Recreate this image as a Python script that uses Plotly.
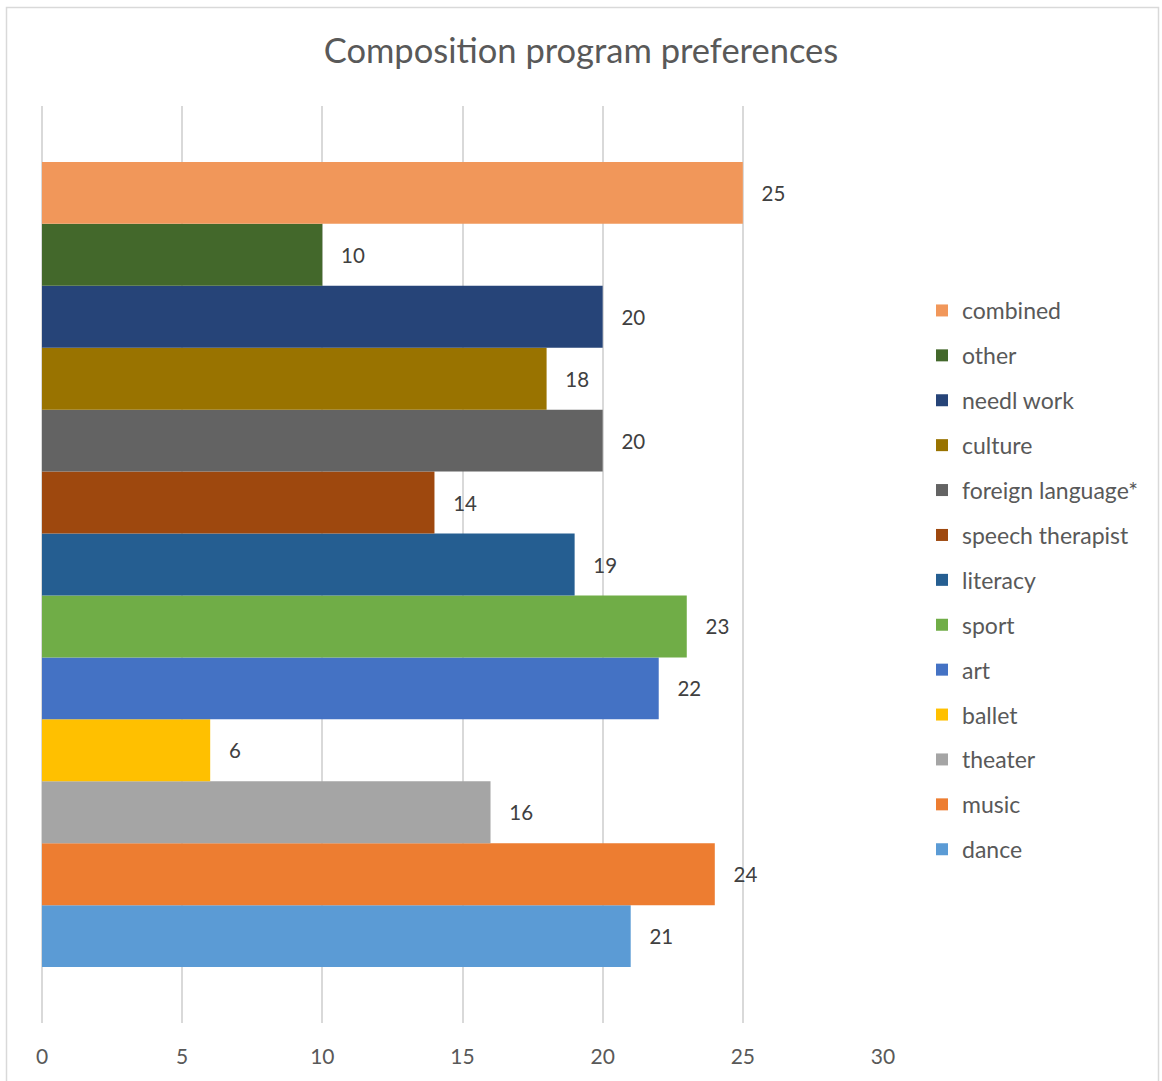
import plotly.graph_objects as go

# Series (bottom to top as drawn)
series_names = ["dance", "music", "theater", "ballet", "art", "sport", "literacy",
                "speech therapist", "foreign language*", "culture", "needl work", "other", "combined"]
series_values = [21, 24, 16, 6, 22, 23, 19, 14, 20, 18, 20, 10, 25]
series_colors = ["#5B9BD5", "#ED7D31", "#A5A5A5", "#FFC000", "#4472C4", "#70AD47", "#255E91",
                 "#9E480E", "#636363", "#997300", "#264478", "#43682B", "#F1975A"]
category = [""]
x_ticks = [0, 5, 10, 15, 20, 25, 30]

FONT = "Lato, Carlito, Calibri, sans-serif"

fig = go.Figure()
n = len(series_names)
for i, (name, val, col) in enumerate(zip(series_names, series_values, series_colors)):
    fig.add_trace(go.Bar(
        y=category, x=[val], name=name, orientation="h",
        marker=dict(color=col, line=dict(width=0)),
        text=[val], texttemplate="   %{text}", textposition="outside",
        textfont=dict(family=FONT, size=20.5, color="#404040"),
        cliponaxis=False, legendgroup=name, legendrank=n - i,
    ))

W, H = 1162, 1081
L, R, T, B = 42, 883, 106, 1023
pw, ph = R - L, B - T

def px_x(v):
    return (v - L) / pw

def px_y(v):
    return (B - v) / ph

fig.update_layout(
    width=W, height=H,
    margin=dict(l=L, r=W - R, t=T, b=H - B, pad=0),
    paper_bgcolor="white", plot_bgcolor="white",
    barmode="group", bargap=0.122, bargroupgap=0,
    title=dict(text="Composition program preferences", x=0.5, xanchor="center",
               y=1 - 51 / H, yanchor="middle",
               font=dict(family=FONT, size=34.5, color="#595959")),
    xaxis=dict(range=[0, 30], tickvals=x_ticks, showgrid=True, gridcolor="#D9D9D9",
               gridwidth=1.5, zeroline=True, zerolinecolor="#D9D9D9", zerolinewidth=1.5,
               showline=False, ticks="",
               tickfont=dict(family=FONT, size=21, color="#595959"), ticklabelstandoff=19),
    yaxis=dict(showticklabels=False, showgrid=False, zeroline=False, showline=False),
    legend=dict(x=px_x(922), xanchor="left", y=px_y(580), yanchor="middle",
                traceorder="grouped", tracegroupgap=12,
                font=dict(family=FONT, size=23, color="#595959"),
                itemwidth=30, bgcolor="rgba(0,0,0,0)"),
    font=dict(family=FONT),
    shapes=[dict(type="rect", xref="paper", yref="paper",
                 x0=px_x(6.5), x1=px_x(1158.5), y0=px_y(1090), y1=px_y(7.5),
                 line=dict(color="#D9D9D9", width=1.5), fillcolor="rgba(0,0,0,0)", layer="below")],
)

fig.write_html("out.html")
